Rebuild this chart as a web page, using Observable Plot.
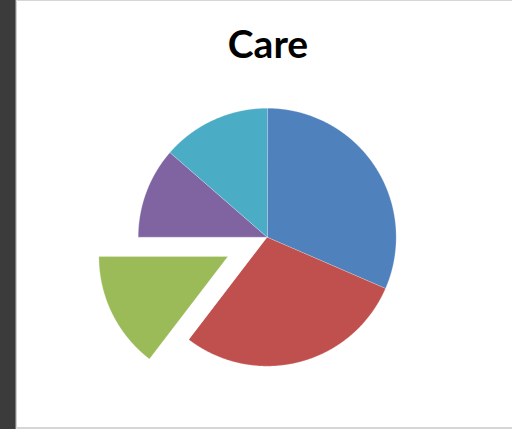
<!DOCTYPE html>
<html>
<head>
<meta charset="utf-8">
<script src="https://cdn.jsdelivr.net/npm/d3@7"></script>
<script src="https://cdn.jsdelivr.net/npm/@observablehq/plot@0.6"></script>
<style>
  html, body { margin: 0; padding: 0; background: #fff; }
  #page { position: relative; width: 512px; height: 429px; overflow: hidden; background: #fff; }
  #bar { position: absolute; left: 0; top: 0; width: 15px; height: 429px; background: #3b3b3b; }
  #edge1 { position: absolute; left: 15px; top: 0; width: 1px; height: 429px; background: #7a7a7a; }
  #edge2 { position: absolute; left: 16px; top: 0; width: 1px; height: 429px; background: #d0d0d0; }
  #topline { position: absolute; left: 16px; top: 0; width: 496px; height: 1px; background: #d6d6d6; }
  #botline { position: absolute; left: 16px; top: 427px; width: 496px; height: 2px; background: #d6d6d6; }
  #title { position: absolute; left: 18px; width: 500px; top: 20px; text-align: center;
           font-family: Lato, "Open Sans", sans-serif; font-weight: bold; font-size: 39px; line-height: 46px; color: #000; }
  #chart { position: absolute; left: 18px; top: 80px; }
</style>
</head>
<body>
<div id="page">
  <div id="bar"></div><div id="edge1"></div><div id="edge2"></div>
  <div id="topline"></div><div id="botline"></div>
  <div id="title">Care</div>
  <div id="chart"></div>
</div>
<script>
// Data (slice shares, percent), in clockwise order from 12 o'clock
const categories = ["Slice 1", "Slice 2", "Slice 3", "Slice 4", "Slice 5"];
const values = [31.5, 28.9, 14.6, 11.4, 13.6];
const colors = ["#4F81BD", "#C0504D", "#9BBB59", "#8064A2", "#4BACC6"];
const exploded = [0, 0, 0.34, 0, 0]; // explode fraction of radius

const W = 494, H = 340;
const R = 129;            // radius in px
const cx = 248.7, cy = 156.7; // centre within the SVG

const pie = d3.pie().sort(null).value(d => d.value).startAngle(0);
const arcs = pie(categories.map((c, i) => ({key: c, value: values[i], explode: exploded[i]})));

// Build polygon outlines in unit-radius data space
const pts = [];
for (const a of arcs) {
  const mid = (a.startAngle + a.endAngle) / 2;
  const ox = a.data.explode * Math.sin(mid), oy = a.data.explode * Math.cos(mid);
  pts.push({key: a.data.key, x: ox, y: oy});
  const n = Math.max(2, Math.ceil((a.endAngle - a.startAngle) / 0.005));
  for (let k = 0; k <= n; k++) {
    const t = a.startAngle + (a.endAngle - a.startAngle) * k / n;
    pts.push({key: a.data.key, x: ox + Math.sin(t), y: oy + Math.cos(t)});
  }
}

const chart = Plot.plot({
  width: W, height: H,
  margin: 0,
  x: {domain: [-cx / R, (W - cx) / R], range: [0, W], axis: null},
  y: {domain: [-(H - cy) / R, cy / R], range: [H, 0], axis: null},
  color: {domain: categories, range: colors},
  style: {background: "transparent", overflow: "visible"},
  marks: [
    Plot.line(pts, {x: "x", y: "y", z: "key", fill: "key", stroke: "white", strokeOpacity: 0.35,
                    strokeWidth: 0.8, curve: "linear-closed"})
  ]
});
document.getElementById("chart").appendChild(chart);
</script>
</body>
</html>
